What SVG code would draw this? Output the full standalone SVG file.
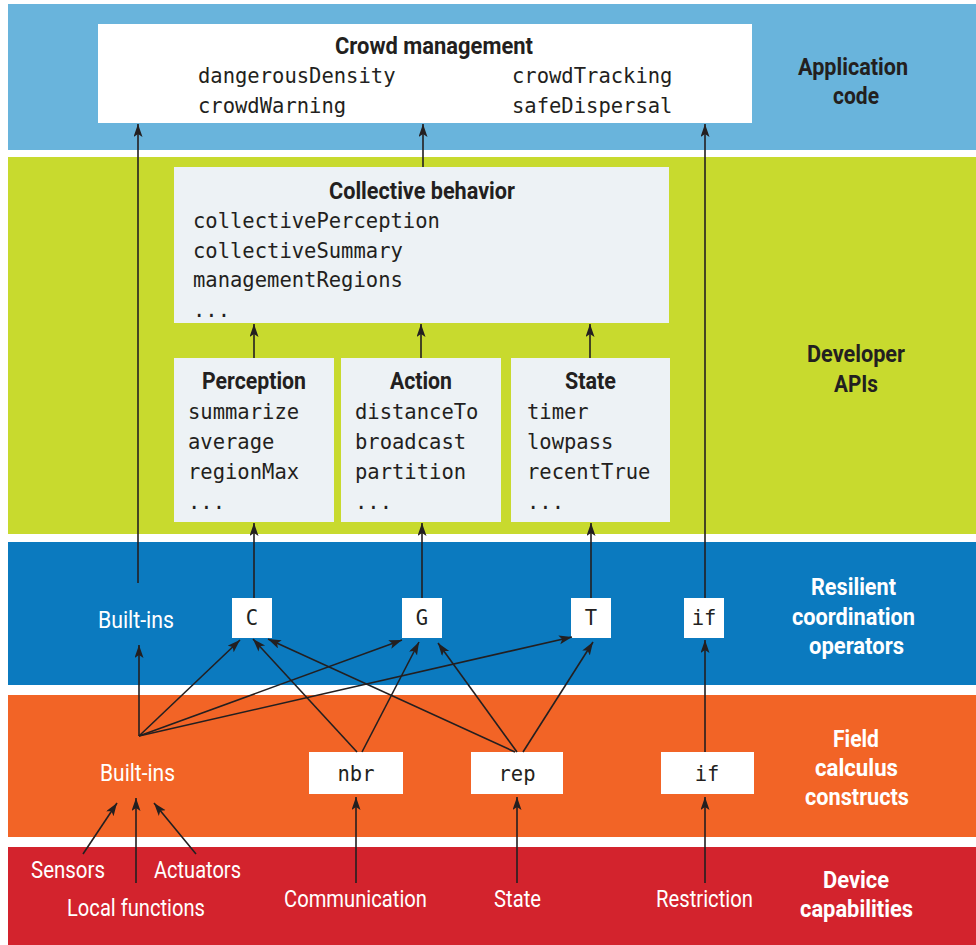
<svg xmlns="http://www.w3.org/2000/svg" width="976" height="945" viewBox="0 0 976 945">
<style>
.h{font-family:Roboto,"Liberation Sans",sans-serif;font-weight:bold;font-size:23px;fill:#231f20;text-anchor:middle}
.hw{font-family:Roboto,"Liberation Sans",sans-serif;font-weight:bold;font-size:23px;fill:#ffffff;text-anchor:middle}
.lw{font-family:Roboto,"Liberation Sans",sans-serif;font-size:23px;fill:#ffffff;text-anchor:middle}
.m{font-family:"DejaVu Sans Mono","Liberation Mono",monospace;font-size:20.5px;fill:#231f20}
.mc{font-family:"DejaVu Sans Mono","Liberation Mono",monospace;font-size:20.5px;fill:#231f20;text-anchor:middle}
.wb{fill:#ffffff}
.lb{fill:#edf2f5}
.c line{stroke:#231f20;stroke-width:1.6;marker-end:url(#ah)}
</style>
<defs>
<marker id="ah" markerUnits="userSpaceOnUse" markerWidth="14" markerHeight="10" refX="13" refY="4.5" orient="auto">
<path d="M0,0 L13,4.5 L0,9 L3,4.5 z" fill="#231f20"/>
</marker>
</defs>
<rect x="0" y="0" width="976" height="945" fill="#ffffff"/>
<g id="bands">
<rect x="8" y="4" width="968" height="146" fill="#69b4dc"/>
<rect x="8" y="157" width="968" height="377" fill="#c8da2e"/>
<rect x="8" y="542" width="968" height="143" fill="#0b7abf"/>
<rect x="8" y="695" width="968" height="142" fill="#f26426"/>
<rect x="8" y="847" width="968" height="98" fill="#d3232d"/>
</g>
<g id="layer-labels">
<text class="h" x="853" y="75" textLength="110" lengthAdjust="spacingAndGlyphs">Application</text>
<text class="h" x="856" y="104" textLength="46" lengthAdjust="spacingAndGlyphs">code</text>
<text class="h" x="856" y="362" textLength="98" lengthAdjust="spacingAndGlyphs">Developer</text>
<text class="h" x="856" y="392" textLength="44" lengthAdjust="spacingAndGlyphs">APIs</text>
<text class="hw" x="853.5" y="595" textLength="85" lengthAdjust="spacingAndGlyphs">Resilient</text>
<text class="hw" x="853.5" y="625" textLength="123" lengthAdjust="spacingAndGlyphs">coordination</text>
<text class="hw" x="856.5" y="654" textLength="95" lengthAdjust="spacingAndGlyphs">operators</text>
<text class="hw" x="856" y="747" textLength="46" lengthAdjust="spacingAndGlyphs">Field</text>
<text class="hw" x="856.5" y="776" textLength="83" lengthAdjust="spacingAndGlyphs">calculus</text>
<text class="hw" x="857" y="805" textLength="104" lengthAdjust="spacingAndGlyphs">constructs</text>
<text class="hw" x="856" y="888" textLength="66" lengthAdjust="spacingAndGlyphs">Device</text>
<text class="hw" x="856.5" y="917" textLength="113" lengthAdjust="spacingAndGlyphs">capabilities</text>
</g>
<g id="crowd-management">
<rect class="wb" x="98" y="24" width="654" height="99"/>
<text class="h" x="434" y="54" textLength="198" lengthAdjust="spacingAndGlyphs">Crowd management</text>
<text class="m" x="198" y="83">dangerousDensity</text>
<text class="m" x="198" y="113">crowdWarning</text>
<text class="m" x="512" y="83">crowdTracking</text>
<text class="m" x="512" y="113">safeDispersal</text>
</g>
<g id="collective-behavior">
<rect class="lb" x="174" y="167" width="495" height="156"/>
<text class="h" x="422" y="199" textLength="186" lengthAdjust="spacingAndGlyphs">Collective behavior</text>
<text class="m" x="193" y="228">collectivePerception</text>
<text class="m" x="193" y="258">collectiveSummary</text>
<text class="m" x="193" y="287">managementRegions</text>
<text class="m" x="193" y="317">...</text>
</g>
<g id="perception">
<rect class="lb" x="174" y="358" width="160" height="164"/>
<text class="h" x="254" y="389" textLength="104" lengthAdjust="spacingAndGlyphs">Perception</text>
<text class="m" x="188" y="419">summarize</text>
<text class="m" x="188" y="449">average</text>
<text class="m" x="188" y="479">regionMax</text>
<text class="m" x="188" y="509">...</text>
</g>
<g id="action">
<rect class="lb" x="341" y="358" width="160" height="164"/>
<text class="h" x="421" y="389" textLength="62" lengthAdjust="spacingAndGlyphs">Action</text>
<text class="m" x="355" y="419">distanceTo</text>
<text class="m" x="355" y="449">broadcast</text>
<text class="m" x="355" y="479">partition</text>
<text class="m" x="355" y="509">...</text>
</g>
<g id="state-api">
<rect class="lb" x="511" y="358" width="159" height="164"/>
<text class="h" x="590.5" y="389" textLength="51" lengthAdjust="spacingAndGlyphs">State</text>
<text class="m" x="527" y="419">timer</text>
<text class="m" x="527" y="449">lowpass</text>
<text class="m" x="527" y="479">recentTrue</text>
<text class="m" x="527" y="509">...</text>
</g>
<g id="builtins-operators">
<text class="lw" x="136" y="628" textLength="76" lengthAdjust="spacingAndGlyphs">Built-ins</text>
</g>
<g id="op-C">
<rect class="wb" x="232" y="598" width="40" height="40"/>
<text class="mc" x="252" y="625">C</text>
</g>
<g id="op-G">
<rect class="wb" x="402" y="598" width="40" height="40"/>
<text class="mc" x="422" y="625">G</text>
</g>
<g id="op-T">
<rect class="wb" x="571" y="598" width="40" height="40"/>
<text class="mc" x="591" y="625">T</text>
</g>
<g id="op-if">
<rect class="wb" x="684" y="598" width="40" height="40"/>
<text class="mc" x="704" y="625">if</text>
</g>
<g id="builtins-field">
<text class="lw" x="137.5" y="781" textLength="75" lengthAdjust="spacingAndGlyphs">Built-ins</text>
</g>
<g id="fc-nbr">
<rect class="wb" x="309" y="752" width="94" height="42"/>
<text class="mc" x="356" y="781">nbr</text>
</g>
<g id="fc-rep">
<rect class="wb" x="471" y="752" width="92" height="42"/>
<text class="mc" x="517" y="781">rep</text>
</g>
<g id="fc-if">
<rect class="wb" x="661" y="752" width="93" height="42"/>
<text class="mc" x="707" y="781">if</text>
</g>
<g id="device-labels">
<text class="lw" x="68" y="878" textLength="74" lengthAdjust="spacingAndGlyphs">Sensors</text>
<text class="lw" x="197.5" y="878" textLength="87" lengthAdjust="spacingAndGlyphs">Actuators</text>
<text class="lw" x="136" y="916" textLength="138" lengthAdjust="spacingAndGlyphs">Local functions</text>
<text class="lw" x="355.5" y="907" textLength="143" lengthAdjust="spacingAndGlyphs">Communication</text>
<text class="lw" x="517.5" y="907" textLength="47" lengthAdjust="spacingAndGlyphs">State</text>
<text class="lw" x="704.5" y="907" textLength="97" lengthAdjust="spacingAndGlyphs">Restriction</text>
</g>
<g id="connectors" class="c">
<line x1="138" y1="583" x2="138" y2="124"/>
<line x1="705" y1="598" x2="705" y2="124"/>
<line x1="423" y1="167" x2="423" y2="124"/>
<line x1="254" y1="358" x2="254" y2="324"/>
<line x1="421" y1="358" x2="421" y2="324"/>
<line x1="590" y1="358" x2="590" y2="324"/>
<line x1="254" y1="598" x2="254" y2="523"/>
<line x1="422" y1="598" x2="422" y2="523"/>
<line x1="591" y1="598" x2="591" y2="523"/>
<line x1="139" y1="736" x2="139" y2="645"/>
<line x1="139" y1="736" x2="240" y2="640"/>
<line x1="139" y1="736" x2="402" y2="640"/>
<line x1="139" y1="736" x2="572" y2="637"/>
<line x1="357" y1="752" x2="253" y2="639"/>
<line x1="362" y1="752" x2="419" y2="642"/>
<line x1="515" y1="752" x2="268" y2="639"/>
<line x1="517" y1="752" x2="438" y2="643"/>
<line x1="523" y1="752" x2="593" y2="642"/>
<line x1="705" y1="752" x2="705" y2="640"/>
<line x1="83" y1="854" x2="117" y2="803"/>
<line x1="136" y1="883" x2="136" y2="798"/>
<line x1="196" y1="854" x2="154" y2="803"/>
<line x1="356" y1="883" x2="356" y2="797"/>
<line x1="517" y1="883" x2="517" y2="797"/>
<line x1="705" y1="883" x2="705" y2="797"/>
</g>
</svg>
